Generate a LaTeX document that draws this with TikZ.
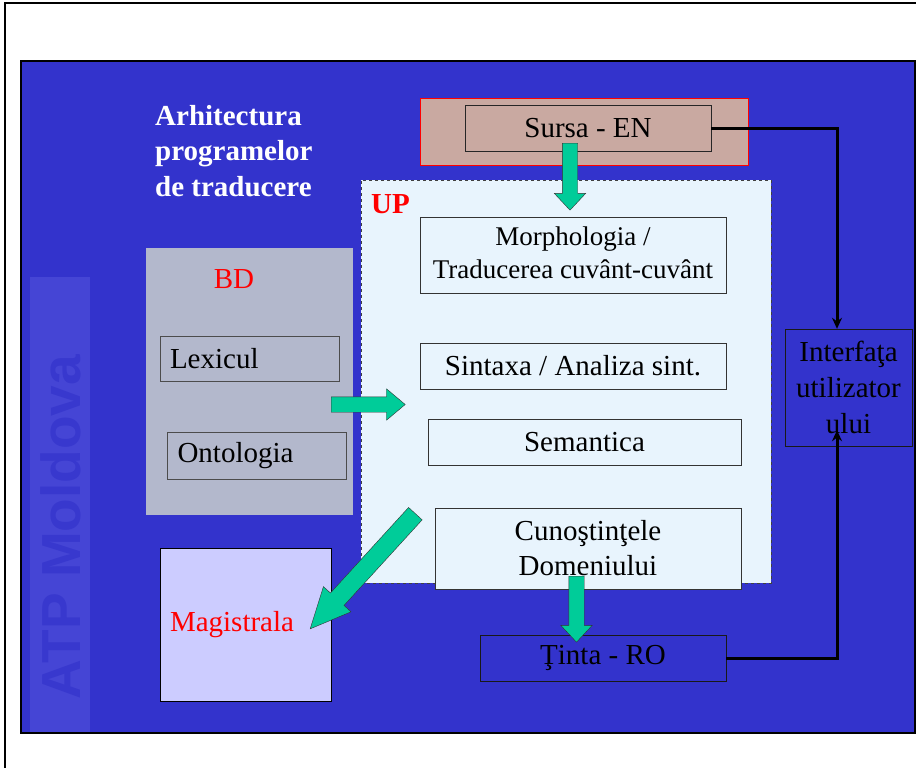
\documentclass[tikz,border=0pt]{standalone}
\usepackage{fontspec}
\setmainfont{Liberation Serif}
\newfontfamily\wmfont{Liberation Sans}
\usetikzlibrary{arrows.meta,shapes.arrows}
\definecolor{slideblue}{HTML}{3333CC}
\definecolor{stripblue}{HTML}{4545D5}
\definecolor{wmblue}{HTML}{3838CE}
\definecolor{srcfill}{HTML}{C9A9A1}
\definecolor{upfill}{HTML}{E8F4FD}
\definecolor{dbfill}{HTML}{B3B8CC}
\definecolor{magfill}{HTML}{CCCCFF}
\definecolor{arrowgreen}{HTML}{00CC99}

\begin{document}
\begin{tikzpicture}[
    x=1pt, y=-1pt,
    txt/.style={font=\fontsize{29}{35}\selectfont},
    box/.style={rectangle, draw=black!80, fill=upfill, inner sep=0pt, align=center, txt},
    srcbox/.style={rectangle, draw=black!85, fill=srcfill, inner sep=0pt, txt},
    dbbox/.style={rectangle, draw=black!70, inner xsep=10pt, inner ysep=0pt, text width=159pt, align=left, txt},
    bluebox/.style={rectangle, draw=black!90, fill=slideblue, inner sep=0pt, align=center, txt},
    garrow/.style={single arrow, draw=black!80, fill=arrowgreen, thin, inner xsep=0pt, inner ysep=7.5pt, single arrow head extend=8pt, single arrow tip angle=86, single arrow head indent=0pt},
    conn/.style={-{Stealth[length=11pt,width=10pt]}, line width=3pt, draw=black}
]
    \useasboundingbox (0,0) rectangle (916,768);
    % Page frame and slide
    \draw[line width=2.5pt] (5,775) |- (925,3);
    \draw[fill=slideblue, line width=2.5pt] (21,61) rectangle (915,733);
    % Watermark
    \fill[stripblue] (30,277) rectangle (90,731.5);
    \node[rotate=90, font=\wmfont\bfseries\fontsize{55}{55}\selectfont, text=wmblue] (wm) at (61,527) {ATP Moldova};
    % Title
    \node[txt, font=\fontsize{29}{35.5}\selectfont\bfseries, text=white, align=left, inner sep=0pt, anchor=north west] (title) at (155,105) {Arhitectura\\programelor\\de traducere};
    % Source
    \node[srcbox, draw=red, minimum width=328pt, minimum height=67pt] (srcback) at (584,131.5) {};
    \node[srcbox, minimum width=246pt, minimum height=46pt] (sursa) at (588,128) {Sursa - EN};
    % UP
    \node[rectangle, draw=black!75, dashed, fill=upfill, minimum width=410pt, minimum height=403pt] (up) at (566,381.5) {};
    \node[txt, font=\fontsize{29}{35}\selectfont\bfseries, text=red, inner sep=0pt, anchor=base west] (uplabel) at (371,213) {UP};
    \node[box, font=\fontsize{27}{33}\selectfont, minimum width=306pt, minimum height=76pt, text depth=5pt] (morph) at (573,255) {Morphologia /\\Traducerea cuvânt-cuvânt};
    \node[box, minimum width=306pt, minimum height=46pt] (sint) at (573,366) {Sintaxa / Analiza sint.};
    \node[box, minimum width=313pt, minimum height=46pt] (sem) at (584.5,442) {Semantica};
    \node[box, minimum width=306pt, minimum height=81pt] (dom) at (588,548.5) {Cunoştinţele\\Domeniului};
    % BD
    \node[rectangle, fill=dbfill, minimum width=207pt, minimum height=267pt] (bd) at (249.5,381.5) {};
    \node[txt, text=red, inner sep=0pt, anchor=base] (bdlabel) at (234,288) {BD};
    \node[dbbox, minimum height=45pt] (lex) at (249.5,358.5) {Lexicul};
    \node[dbbox, minimum height=47pt] (onto) at (257,455.5) {Ontologia};
    % Magistrala
    \node[rectangle, draw=black, fill=magfill, inner xsep=10pt, text width=151pt, align=left, minimum height=153pt, txt, text=red] (mag) at (245.5,624.5) {Magistrala};
    % Target and interface
    \node[bluebox, minimum width=246pt, minimum height=46pt] (tinta) at (603,658) {Ţinta - RO};
    \node[bluebox, font=\fontsize{29}{36}\selectfont, minimum width=127pt, minimum height=117pt] (inter) at (848.5,387.5) {Interfaţa\\utilizator\\ului};
    % Green arrows
    \node[garrow, rotate=-90, minimum height=67pt, anchor=tail] (a1) at (570,143) {};
    \node[garrow, rotate=0, minimum height=74pt, single arrow tip angle=80, anchor=tail] (a2) at (331,404.5) {};
    \node[garrow, rotate=227.6, minimum height=156pt, inner ysep=9pt, single arrow head extend=9.5pt, single arrow tip angle=50, anchor=tail] (a3) at (415.5,513.5) {};
    \node[garrow, rotate=-90, minimum height=66pt, anchor=tail] (a4) at (576.5,576) {};
    % Connectors
    \draw[conn] (sursa.east) -| ([xshift=-11.5pt]inter.north);
    \draw[conn] (tinta.east) -| ([xshift=-11.5pt,yshift=16pt]inter.south);
\end{tikzpicture}
\end{document}
